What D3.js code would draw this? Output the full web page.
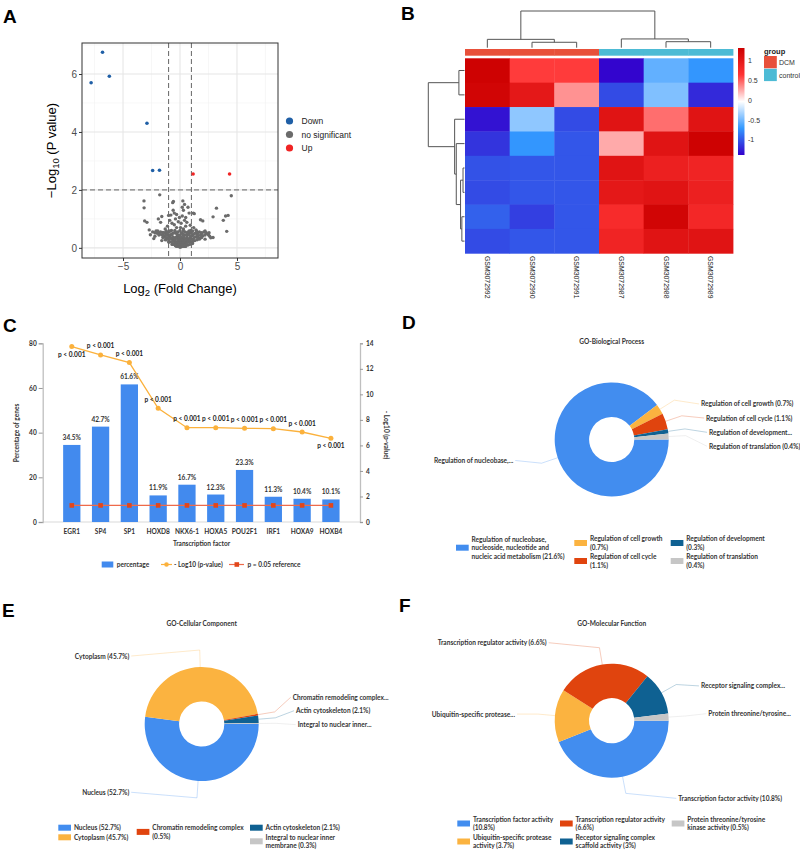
<!DOCTYPE html>
<html><head><meta charset="utf-8">
<script src="https://cdn.jsdelivr.net/npm/d3@7"></script>
<style>body{margin:0;background:#fff}</style>
</head><body>
<svg id="c" width="800" height="850"></svg>
<script>
// ================= DATA =================
// A: volcano
const volcDown = [[-7.8,5.7],[-6.8,6.75],[-6.2,5.92],[-2.9,4.3],[-2.4,2.67],[-1.8,2.68]];
const volcUp = [[1.15,2.55],[4.35,2.55]];
const volcNS = [[-3.16,1.62],[-3.15,1.38],[-1.78,1.83],[4.5,1.8],[3.2,1.37],[4.0,1.1],[4.22,1.12],[3.8,0.95],[2.9,1.07],[2.0,0.93],[1.8,0.97],[4.1,0.57],[2.9,0.36],
[-3.1,0.93],[-2.9,0.88],[-2.7,0.62],[-2.3,0.32],[-1.9,1.0],[-0.64,1.56],[-0.58,1.6],[0.25,1.62],[0.4,1.5],[0.7,1.4],[0.2,1.4],[-0.5,1.2],[-0.8,1.13],[-1.0,1.12],[-1.6,1.08],[1.17,1.2],[1.25,1.18],[-1.7,0.88],
[0,0.02],[0.1,0.04],[-0.1,0.05],[0.2,0.08],[-0.2,0.1],[0.3,0.12],[-0.3,0.13],[0.4,0.15],[-0.4,0.18],[0.5,0.2],[-0.5,0.22],[0.6,0.25],[-0.6,0.26],[0.7,0.28],[-0.7,0.3],[0.8,0.32],[-0.8,0.34],[0.9,0.36],[-0.9,0.38],[1.0,0.4],[-1.0,0.42],[1.1,0.44],[-1.1,0.45],[1.2,0.47],[-1.2,0.48],[1.3,0.5],[-1.3,0.5],[1.5,0.52],[-1.5,0.53],[1.7,0.55],[-1.7,0.55],[1.9,0.5],[-1.9,0.52],[2.1,0.55],[-2.1,0.58],[2.3,0.5],[2.5,0.45],[2.6,0.4],[-2.2,0.4],
[0.05,0.15],[-0.05,0.2],[0.15,0.25],[-0.15,0.3],[0.25,0.35],[-0.25,0.4],[0.35,0.45],[-0.35,0.5],[0.45,0.55],[-0.45,0.6],[0.55,0.3],[-0.55,0.35],[0.65,0.45],[-0.65,0.5],[0.75,0.55],[-0.75,0.6],[0.85,0.5],[-0.85,0.45],[0.95,0.6],[-0.95,0.55],[1.05,0.3],[-1.05,0.33],[1.4,0.38],[-1.4,0.4],[1.6,0.42],[-1.6,0.45],[1.8,0.35],[-1.8,0.48],[2.0,0.42],[-2.0,0.5],
[0.1,0.3],[-0.1,0.35],[0.2,0.5],[-0.2,0.55],[0.3,0.65],[-0.3,0.7],[0.5,0.75],[-0.5,0.8],[0.1,0.85],[-0.15,0.9],[0.4,0.95],[-0.4,1.0],[0.6,0.88],[-0.7,0.85],[1.2,0.7],[-1.1,0.75],[0.9,0.78],[-0.9,0.95],[1.4,0.62],[-1.3,0.65],[0.0,0.6],[0.05,0.7],[-0.05,1.05],[0.2,1.1],[0.5,1.05],[-0.3,1.15],[0.8,1.2],[-0.6,1.3],[0.3,1.3],[2.2,0.3],[-2.4,0.55],[2.7,0.35],[-2.6,0.45],[1.1,0.15],[-1.0,0.2],[0.7,0.1],[-0.7,0.12],[0.4,0.05],[-0.4,0.07],[1.3,0.25],[-1.3,0.28],[1.7,0.3],[-1.6,0.25],
[-0.3,0.05],[-0.15,0.05],[0.15,0.05],[0.3,0.05],[0.5,0.05],
[-0.6,0.12],[-0.45,0.12],[-0.2,0.12],[0,0.12],[0.2,0.12],[0.45,0.12],[0.6,0.12],[0.85,0.12],
[-0.9,0.2],[-0.7,0.2],[-0.3,0.2],[-0.1,0.2],[0.1,0.2],[0.3,0.2],[0.7,0.2],[0.9,0.2],[1.1,0.2],
[-1.2,0.28],[-0.95,0.28],[-0.45,0.28],[-0.2,0.28],[0,0.28],[0.25,0.28],[0.45,0.28],[0.9,0.28],[1.15,0.28],[1.5,0.28],
[-1.5,0.36],[-1.25,0.36],[-0.6,0.36],[-0.35,0.36],[-0.1,0.36],[0.1,0.36],[0.35,0.36],[0.6,0.36],[1.25,0.36],[1.55,0.36],[1.9,0.36],
[-1.85,0.44],[-1.5,0.44],[-1.2,0.44],[-0.7,0.44],[-0.2,0.44],[0,0.44],[0.25,0.44],[0.55,0.44],[0.8,0.44],[1.5,0.44],[1.8,0.44],[2.2,0.44],
[-2.2,0.52],[-1.4,0.52],[-1.1,0.52],[-0.5,0.52],[-0.25,0.52],[0.1,0.52],[0.6,0.52],[1.0,0.52],[1.6,0.52],[1.9,0.52],[2.3,0.52],[2.55,0.52],
[-1.95,0.58],[-1.2,0.58],[-0.9,0.58],[0.3,0.58],[0.8,0.58],[1.1,0.58],[1.45,0.58],[2.2,0.58]];
const volcLegend = ["Down","no significant","Up"];
const volcXMajor = [-5,0,5], volcXMinor = [-7.5,-2.5,2.5,7.5];
const volcYMajor = [0,2,4,6], volcYMinor = [1,3,5,7];
const volcFC = 1, volcP = 2;

// B: heatmap
const hmCols = ["GSM3072992","GSM3072990","GSM3072991","GSM3072987","GSM3072988","GSM3072989"];
const hmGroups = ["DCM","DCM","DCM","control","control","control"];
const hmGroupNames = ["DCM","control"];
const hmValues = [
 [1.30, 0.62, 0.62,-1.36,-0.55,-0.72],
 [1.25, 1.00, 0.33,-1.05,-0.45,-1.20],
 [-1.30,-0.40,-1.05, 1.05, 0.45, 1.05],
 [-1.15,-0.72,-1.00, 0.25, 1.05, 1.30],
 [-1.02,-1.00,-1.00, 1.05, 0.90, 0.85],
 [-1.05,-1.00,-1.00, 1.00, 1.05, 0.90],
 [-0.95,-1.10,-1.00, 0.75, 1.25, 0.80],
 [-1.05,-1.00,-1.00, 0.85, 1.05, 1.05]];
const hmColTree = {h:4.4, c:[{h:1.0, c:[0,{h:0.65,c:[1,2]}]},{h:1.05,c:[3,{h:0.72,c:[4,5]}]}]};
const hmRowTree = {h:4.4, c:[{h:0.68,c:[0,1]},{h:1.2,c:[2,{h:1.0,c:[3,{h:0.48,c:[{h:0.18,c:[4,5]},{h:0.32,c:[6,7]}]}]}]}]};
const hmLegendTicks = [1,0.5,0,-0.5,-1];
const hmRange = [-1.38, 1.32];

// C: transcription factors
const tfNames = ["EGR1","SP4","SP1","HOXD8","NKX6-1","HOXA5","POU2F1","IRF1","HOXA9","HOXB4"];
const tfPercent = [34.5,42.7,61.6,11.9,16.7,12.3,23.3,11.3,10.4,10.1];
const tfLogP = [13.74,13.09,12.49,8.91,7.39,7.39,7.34,7.31,7.05,6.56];
const tfPText = ["p < 0.001","p < 0.001","p < 0.001","p < 0.001","p < 0.001","p < 0.001","p < 0.001","p < 0.001","p < 0.001","p < 0.001"];
const tfPLabelSide = ["below","above","above","above","above","above","above","above","above","below"];
const tfRefLogP = 1.30;
const tfLeftTicks = [0,20,40,60,80];
const tfRightTicks = [0,2,4,6,8,10,12,14];
const tfLegend = ["percentage","- Log10 (p-value)","p = 0.05 reference"];

// D: GO-BP
const bpValues = [21.6,0.7,1.1,0.3,0.4];
const bpCallouts = ["Regulation of nucleobase,...","Regulation of cell growth (0.7%)","Regulation of cell cycle (1.1%)","Regulation  of  development...","Regulation of translation (0.4%)"];
const bpLegend = [["Regulation of nucleobase,","nucleoside, nucleotide and","nucleic acid metabolism (21.6%)"],["Regulation of cell growth","(0.7%)"],["Regulation of cell cycle","(1.1%)"],["Regulation of development","(0.3%)"],["Regulation of translation","(0.4%)"]];
// E: GO-CC
const ccValues = [52.7,45.7,0.5,2.1,0.3];
const ccCallouts = ["Nucleus (52.7%)","Cytoplasm (45.7%)","Chromatin  remodeling  complex...","Actin cytoskeleton (2.1%)","Integral to nuclear inner..."];
const ccLegend = [["Nucleus (52.7%)"],["Cytoplasm (45.7%)"],["Chromatin remodeling complex","(0.5%)"],["Actin cytoskeleton (2.1%)"],["Integral to nuclear inner","membrane (0.3%)"]];
// F: GO-MF
const mfValues = [10.8,3.7,6.6,3,0.5];
const mfCallouts = ["Transcription factor activity (10.8%)","Ubiquitin-specific protease...","Transcription regulator activity (6.6%)","Receptor  signaling  complex...","Protein  threonine/tyrosine..."];
const mfLegend = [["Transcription factor activity","(10.8%)"],["Ubiquitin-specific protease","activity (3.7%)"],["Transcription regulator activity","(6.6%)"],["Receptor signaling complex","scaffold activity (3%)"],["Protein threonine/tyrosine","kinase activity (0.5%)"]];

// ================= DRAW =================
const svg = d3.select("#c");
svg.append("rect").attr("width",800).attr("height",850).attr("fill","#fff");
const SANS = "'Liberation Sans', Arial, Helvetica, sans-serif";
const CAL = "Lato, 'Open Sans', sans-serif";
const CFS = 6.55;

function panelLabel(t,x,y){
  svg.append("text").attr("x",x).attr("y",y).text(t).attr("font-family",SANS)
    .attr("font-weight","bold").attr("font-size",19).attr("fill","#000");
}
panelLabel("A",3,23); panelLabel("B",401,19.5); panelLabel("C",3,332);
panelLabel("D",402,328.5); panelLabel("E",2,617); panelLabel("F",399,612);

// ---------- A ----------
(function(){
  const x = d3.scaleLinear().domain([-8.6,8.6]).range([82,278]);
  const y = d3.scaleLinear().domain([-0.35,7.07]).range([258,43]);
  const g = svg.append("g");
  const [x0,x1] = x.range(), [y1,y0] = y.range();
  g.selectAll("line.vmn").data(volcXMinor).join("line").attr("x1",d=>x(d)).attr("x2",d=>x(d)).attr("y1",y0).attr("y2",y1).attr("stroke","#F2F2F2").attr("stroke-width",0.6);
  g.selectAll("line.hmn").data(volcYMinor).join("line").attr("y1",d=>y(d)).attr("y2",d=>y(d)).attr("x1",x0).attr("x2",x1).attr("stroke","#F2F2F2").attr("stroke-width",0.6);
  g.selectAll("line.vmj").data(volcXMajor).join("line").attr("x1",d=>x(d)).attr("x2",d=>x(d)).attr("y1",y0).attr("y2",y1).attr("stroke","#E6E6E6").attr("stroke-width",1.1);
  g.selectAll("line.hmj").data(volcYMajor).join("line").attr("y1",d=>y(d)).attr("y2",d=>y(d)).attr("x1",x0).attr("x2",x1).attr("stroke","#E6E6E6").attr("stroke-width",1.1);
  [-volcFC, volcFC].forEach(v=>g.append("line").attr("x1",x(v)).attr("x2",x(v)).attr("y1",y0).attr("y2",y1).attr("stroke","#666").attr("stroke-width",1).attr("stroke-dasharray","5,3"));
  g.append("line").attr("x1",x0).attr("x2",x1).attr("y1",y(volcP)).attr("y2",y(volcP)).attr("stroke","#666").attr("stroke-width",1).attr("stroke-dasharray","5,3");
  g.selectAll("circle.ns").data(volcNS).join("circle").attr("cx",d=>x(d[0])).attr("cy",d=>y(d[1])).attr("r",1.7).attr("fill","#6B6B6B");
  g.selectAll("circle.dn").data(volcDown).join("circle").attr("cx",d=>x(d[0])).attr("cy",d=>y(d[1])).attr("r",1.8).attr("fill","#1F5FA6");
  g.selectAll("circle.up").data(volcUp).join("circle").attr("cx",d=>x(d[0])).attr("cy",d=>y(d[1])).attr("r",1.8).attr("fill","#F02424");
  g.append("rect").attr("x",x0).attr("y",y0).attr("width",x1-x0).attr("height",y1-y0).attr("fill","none").attr("stroke","#333").attr("stroke-width",1);
  const fmt = d => d<0 ? "\u2212"+(-d) : d;
  const ax = g.append("g").attr("transform",`translate(0,${y1})`).call(d3.axisBottom(x).tickValues(volcXMajor).tickSize(3).tickPadding(2).tickFormat(fmt));
  const ay = g.append("g").attr("transform",`translate(${x0},0)`).call(d3.axisLeft(y).tickValues(volcYMajor).tickSize(3).tickPadding(2).tickFormat(fmt));
  [ax,ay].forEach(a=>{a.select(".domain").remove(); a.selectAll("line").attr("stroke","#333");
    a.selectAll("text").attr("font-family",SANS).attr("font-size",10).attr("fill","#4D4D4D");});
  const xt = g.append("text").attr("x",(x0+x1)/2).attr("y",293).attr("text-anchor","middle").attr("font-family",SANS).attr("font-size",13).attr("fill","#000");
  xt.append("tspan").text("Log");
  xt.append("tspan").text("2").attr("font-size",9.5).attr("dy",3);
  xt.append("tspan").text(" (Fold Change)").attr("dy",-3);
  const yt = g.append("text").attr("transform",`translate(56,${(y0+y1)/2}) rotate(-90)`).attr("text-anchor","middle").attr("font-family",SANS).attr("font-size",13).attr("fill","#000");
  yt.append("tspan").text("\u2212Log");
  yt.append("tspan").text("10").attr("font-size",9.5).attr("dy",3);
  yt.append("tspan").text(" (P value)").attr("dy",-3);
  const lc = ["#1F5FA6","#6B6B6B","#F02424"];
  const ly = d3.scalePoint().domain(volcLegend).range([121,148]);
  volcLegend.forEach((t,i)=>{
    g.append("circle").attr("cx",289.5).attr("cy",ly(t)).attr("r",3.6).attr("fill",lc[i]);
    g.append("text").attr("x",301.5).attr("y",ly(t)).attr("dominant-baseline","central").attr("font-family",SANS).attr("font-size",8.5).attr("fill","#222").text(t);
  });
})();

// ---------- B ----------
(function(){
  const g = svg.append("g");
  const x = d3.scaleBand().domain(d3.range(hmCols.length)).range([465,733]);
  const y = d3.scaleBand().domain(d3.range(hmValues.length)).range([58.3,253.3]);
  const col = d3.scaleLinear().domain([-1.38,-0.705,-0.03,0.645,1.32]).range(["#3300CC","#3399FF","#FFFFFF","#FF3333","#CC0000"]).clamp(true);
  const gcol = d3.scaleOrdinal().domain(hmGroupNames).range(["#E8503A","#4DBBD5"]);
  hmValues.forEach((row,i)=>row.forEach((v,j)=>{
    g.append("rect").attr("x",x(j)).attr("y",y(i)).attr("width",x.bandwidth()+0.4).attr("height",y.bandwidth()+0.4).attr("fill",col(v));
  }));
  hmGroups.forEach((gr,j)=>g.append("rect").attr("x",x(j)).attr("y",49).attr("width",x.bandwidth()+0.4).attr("height",6.7).attr("fill",gcol(gr)));
  function dendro(node, posScale, hScale, vertical){
    if (typeof node === "number") return {p: posScale(node)+posScale.bandwidth()/2, h:0};
    const ch = node.c.map(c=>dendro(c,posScale,hScale,vertical));
    const p = d3.mean(ch,d=>d.p);
    const H = hScale(node.h);
    let d = "";
    ch.forEach(c=>{
      if (vertical) d += `M${c.p},${hScale(c.h)}V${H}`; else d += `M${hScale(c.h)},${c.p}H${H}`;
    });
    if (vertical) d += `M${ch[0].p},${H}H${ch[ch.length-1].p}`; else d += `M${H},${ch[0].p}V${ch[ch.length-1].p}`;
    g.append("path").attr("d",d).attr("fill","none").attr("stroke","#555").attr("stroke-width",1);
    return {p, h:node.h};
  }
  const colH = d3.scaleLinear().domain([0,hmColTree.h]).range([47.7,11]);
  dendro(hmColTree, x, colH, true);
  const rowH = d3.scaleLinear().domain([0,hmRowTree.h]).range([464.5,428.3]);
  dendro(hmRowTree, y, rowH, false);
  hmCols.forEach((t,j)=>g.append("text").attr("transform",`translate(${x(j)+x.bandwidth()/2},256) rotate(90)`)
    .attr("dominant-baseline","central").attr("font-family",SANS).attr("font-size",6.9).attr("fill","#222").text(t));
  const defs = svg.append("defs");
  const grad = defs.append("linearGradient").attr("id","hmgrad").attr("x1",0).attr("y1",1).attr("x2",0).attr("y2",0);
  d3.range(0,1.0001,0.05).forEach(t=>grad.append("stop").attr("offset",t).attr("stop-color",col(hmRange[0]+t*(hmRange[1]-hmRange[0]))));
  const cb = d3.scaleLinear().domain(hmRange).range([155,48]);
  g.append("rect").attr("x",738).attr("y",48).attr("width",6.5).attr("height",107).attr("fill","url(#hmgrad)");
  hmLegendTicks.forEach(t=>g.append("text").attr("x",748).attr("y",cb(t)).attr("dominant-baseline","central")
    .attr("font-family",SANS).attr("font-size",7).attr("fill","#333").text(t));
  g.append("text").attr("x",764).attr("y",53.5).attr("font-family",SANS).attr("font-size",7.5).attr("font-weight","bold").attr("fill","#222").text("group");
  hmGroupNames.forEach((n,i)=>{
    g.append("rect").attr("x",764).attr("y",56+i*12.8).attr("width",12.8).attr("height",12.3).attr("fill",gcol(n));
    g.append("text").attr("x",779).attr("y",62.3+i*12.8).attr("dominant-baseline","central").attr("font-family",SANS).attr("font-size",7).attr("fill","#333").text(n);
  });
})();

// ---------- C ----------
(function(){
  const g = svg.append("g");
  const x = d3.scaleBand().domain(tfNames).range([42.7,360]).paddingInner(0.4).paddingOuter(0.71);
  const yl = d3.scaleLinear().domain([0,80]).range([522,343.3]);
  const yr = d3.scaleLinear().domain([0,14]).range([522,343.3]);
  const F = CAL, FS = CFS, TC = "#333";
  g.append("line").attr("x1",42.7).attr("x2",360).attr("y1",522).attr("y2",522).attr("stroke","#D9D9D9").attr("stroke-width",1);
  const al = g.append("g").attr("transform","translate(42.7,0)").call(d3.axisLeft(yl).tickValues(tfLeftTicks).tickSize(4).tickPadding(2));
  const ar = g.append("g").attr("transform","translate(360,0)").call(d3.axisRight(yr).tickValues(tfRightTicks).tickSize(3).tickPadding(3));
  [al,ar].forEach(a=>{a.select(".domain").attr("stroke","#BFBFBF").attr("stroke-width",1.3);
    a.selectAll(".tick line").attr("stroke","#999");
    a.selectAll("text").attr("font-family",F).attr("font-size",FS).attr("font-weight",700).attr("fill",TC);});
  g.selectAll("rect.bar").data(tfNames).join("rect").attr("x",d=>x(d)).attr("width",x.bandwidth())
    .attr("y",(d,i)=>yl(tfPercent[i])).attr("height",(d,i)=>yl(0)-yl(tfPercent[i])).attr("fill","#428AEE");
  g.selectAll("text.bl").data(tfNames).join("text").attr("x",d=>x(d)+x.bandwidth()/2).attr("y",(d,i)=>yl(tfPercent[i])-7.5)
    .attr("text-anchor","middle").attr("dominant-baseline","central").attr("font-family",F).attr("font-size",FS).attr("font-weight",700).attr("fill",TC)
    .text((d,i)=>tfPercent[i].toFixed(1)+"%");
  g.selectAll("text.xl").data(tfNames).join("text").attr("x",d=>x(d)+x.bandwidth()/2).attr("y",531)
    .attr("text-anchor","middle").attr("dominant-baseline","central").attr("font-family",F).attr("font-size",FS).attr("font-weight",700).attr("fill",TC).text(d=>d);
  const cx = d => x(d)+x.bandwidth()/2;
  g.append("path").attr("d",d3.line().x(d=>cx(d)).y(()=>yr(tfRefLogP))(tfNames)).attr("fill","none").attr("stroke","#EE6A4A").attr("stroke-width",1.2);
  g.selectAll("rect.sq").data(tfNames).join("rect").attr("x",d=>cx(d)-2.3).attr("y",yr(tfRefLogP)-2.3).attr("width",4.6).attr("height",4.6).attr("fill","#E2461A");
  g.append("path").attr("d",d3.line().x(d=>cx(d)).y((d,i)=>yr(tfLogP[i]))(tfNames)).attr("fill","none").attr("stroke","#FBB13C").attr("stroke-width",1.3);
  g.selectAll("circle.pt").data(tfNames).join("circle").attr("cx",d=>cx(d)).attr("cy",(d,i)=>yr(tfLogP[i])).attr("r",2.5).attr("fill","#FBB13C");
  g.selectAll("text.pl").data(tfNames).join("text").attr("x",d=>cx(d)).attr("y",(d,i)=>yr(tfLogP[i])+(tfPLabelSide[i]==="above"?-9:7.5))
    .attr("text-anchor","middle").attr("dominant-baseline","central").attr("font-family",F).attr("font-size",FS).attr("font-weight",700).attr("fill","#222")
    .text((d,i)=>tfPText[i]);
  g.append("text").attr("x",201.5).attr("y",543.5).attr("text-anchor","middle").attr("dominant-baseline","central").attr("font-family",F).attr("font-size",FS).attr("font-weight",700).attr("fill",TC).text("Transcription factor");
  g.append("text").attr("transform","translate(16,433) rotate(-90)").attr("text-anchor","middle").attr("dominant-baseline","central").attr("font-family",F).attr("font-size",FS).attr("font-weight",700).attr("fill",TC).text("Percentage of genes");
  g.append("text").attr("transform","translate(386.5,435) rotate(90)").attr("text-anchor","middle").attr("dominant-baseline","central").attr("font-family",F).attr("font-size",FS).attr("font-weight",700).attr("fill",TC).text("- Log10 (p-value)");
  const LY = 564.5;
  g.append("rect").attr("x",101.7).attr("y",LY-3).attr("width",11.6).attr("height",6).attr("fill","#428AEE");
  g.append("line").attr("x1",161).attr("x2",172).attr("y1",LY).attr("y2",LY).attr("stroke","#FBB13C").attr("stroke-width",1.2);
  g.append("circle").attr("cx",166.5).attr("cy",LY).attr("r",2.3).attr("fill","#FBB13C");
  g.append("line").attr("x1",229).attr("x2",244).attr("y1",LY).attr("y2",LY).attr("stroke","#EE6A4A").attr("stroke-width",1.2);
  g.append("rect").attr("x",234.5).attr("y",LY-2.3).attr("width",4.6).attr("height",4.6).attr("fill","#E2461A");
  [[116.7,tfLegend[0]],[174,tfLegend[1]],[247.5,tfLegend[2]]].forEach(([lx,t])=>
    g.append("text").attr("x",lx).attr("y",LY).attr("dominant-baseline","central").attr("font-family",F).attr("font-size",FS).attr("font-weight",700).attr("fill",TC).text(t));
})();

// ---------- D, E, F (donuts) ----------
const pieColors = ["#428DEF","#FBB340","#E0440E","#0F6192","#C6C6C6"];
function drawDonut(cfg){
  const g = svg.append("g");
  const F = CAL, FS = CFS;
  g.append("text").attr("x",cfg.cx).attr("y",cfg.titleY).attr("text-anchor","middle").attr("dominant-baseline","central")
    .attr("font-family",F).attr("font-size",FS).attr("font-weight",700).attr("fill","#333").text(cfg.title);
  const pie = d3.pie().sort(null).value(d=>d).startAngle(Math.PI/2).endAngle(Math.PI/2+2*Math.PI);
  const arcs = pie(cfg.values);
  const arc = d3.arc().innerRadius(cfg.r0).outerRadius(cfg.r1);
  const R1 = cfg.r1, L1 = 17;
  arcs.forEach((a,i)=>{
    const m = (a.startAngle+a.endAngle)/2;
    const s = Math.sin(m), c = Math.cos(m);
    const dir = s >= 0 ? 1 : -1;
    const p0 = [cfg.cx + R1*s, cfg.cy - R1*c];
    const p1 = [cfg.cx + (R1+L1)*s, cfg.cy - (R1+L1)*c];
    const [len2, dy] = cfg.labelOffsets[i];
    const tx = p1[0] + dir*len2, ty = p1[1] + dy;
    g.append("path").attr("d",`M${p0[0]},${p0[1]}L${p1[0]},${p1[1]}L${tx-dir*2},${ty}`).attr("fill","none")
      .attr("stroke",pieColors[i]).attr("stroke-opacity",0.35).attr("stroke-width",0.8);
    g.append("text").attr("x",tx).attr("y",ty).attr("text-anchor",dir>0?"start":"end").attr("dominant-baseline","central")
      .attr("font-family",F).attr("font-size",FS).attr("font-weight",700).attr("fill","#333").text(cfg.callouts[i]);
  });
  g.selectAll("path.sl").data(arcs).join("path").attr("transform",`translate(${cfg.cx},${cfg.cy})`).attr("d",arc)
    .attr("fill",(d,i)=>pieColors[i]);
  cfg.legend.forEach((lines,i)=>{
    const [lx,ly] = cfg.legendPos[i];
    g.append("rect").attr("x",lx).attr("y",ly-3).attr("width",12.7).attr("height",6).attr("fill",pieColors[i]);
    const n = lines.length;
    lines.forEach((t,k)=>g.append("text").attr("x",lx+15.6).attr("y",ly+(k-(n-1)/2)*8.4).attr("dominant-baseline","central")
      .attr("font-family",F).attr("font-size",FS).attr("font-weight",700).attr("fill","#333").text(t));
  });
}
drawDonut({title:"GO-Biological Process", titleY:341.7, cx:611.7, cy:439.5, r0:22.6, r1:57,
  values:bpValues, callouts:bpCallouts, legend:bpLegend,
  labelOffsets:[[28.3,-2.7],[26.7,3.8],[24.3,2.2],[24.1,3.4],[23.4,10.6]],
  legendPos:[[456,547.7],[574.3,543],[574.3,561],[670.7,543],[670.7,561]]});
drawDonut({title:"GO-Cellular Component", titleY:623.3, cx:201.7, cy:724, r0:22.6, r1:57,
  values:ccValues, callouts:ccCallouts, legend:ccLegend,
  labelOffsets:[[67.8,-5.6],[70.5,6],[18,-14.6],[20.6,-7.1],[22,1.3]],
  legendPos:[[58.3,827.7],[58.3,837.3],[136.7,831.9],[250,827.7],[250,841.3]]});
drawDonut({title:"GO-Molecular Function", titleY:623.3, cx:611.7, cy:720.7, r0:22.6, r1:57,
  values:mfValues, callouts:mfCallouts, legend:mfLegend,
  labelOffsets:[[52.5,5],[23,0],[52.8,-5],[24.7,1.4],[22.8,-2.3]],
  legendPos:[[457.3,823.5],[457.3,841.5],[560,823.5],[560,841.5],[671.7,823.5]]});
</script>
</body></html>
